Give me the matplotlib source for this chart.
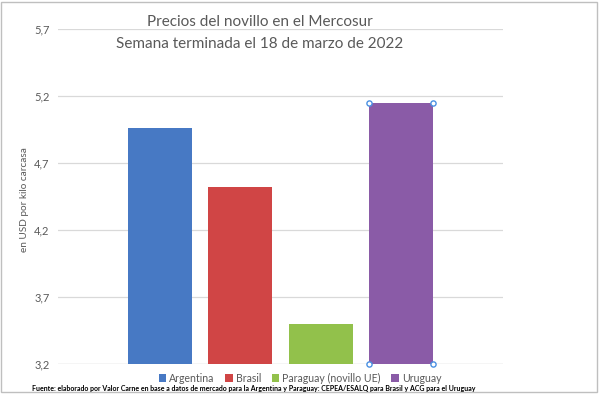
import numpy as np
import matplotlib.pyplot as plt
from matplotlib.patches import Rectangle

# datos
paises = ['Argentina', 'Brasil', 'Paraguay (novillo UE)', 'Uruguay']
precios = [4.96, 4.52, 3.50, 5.15]
colores = ['#4779c4', '#d04545', '#92c14b', '#8a5ba7']
ticks_y = [3.2, 3.7, 4.2, 4.7, 5.2, 5.7]
etiquetas_y = ['3,2', '3,7', '4,2', '4,7', '5,2', '5,7']

plt.rcParams['font.family'] = ['Lato', 'DejaVu Sans']
gris = '#595959'

fig = plt.figure(figsize=(6, 3.96), dpi=100)
ax = fig.add_axes([58 / 600, 1 - 364 / 396, 445 / 600, 335 / 396])

x = np.arange(len(paises))
barras = ax.bar(x, [p - ticks_y[0] for p in precios], bottom=ticks_y[0],
                width=0.8, color=colores, label=paises, zorder=3)

# marcas de selección sobre la barra de Uruguay
b = barras[3]
ax.scatter([b.get_x(), b.get_x() + b.get_width(), b.get_x(), b.get_x() + b.get_width()],
           [b.get_y() + b.get_height(), b.get_y() + b.get_height(), b.get_y(), b.get_y()],
           s=14, facecolor='white', edgecolor='#4a90e2', linewidth=1, zorder=5, clip_on=False)

ax.set_xlim(-1.28, 4.28)
ax.set_ylim(3.2, 5.7)
ax.set_yticks(ticks_y)
ax.set_yticklabels(etiquetas_y, color=gris, fontsize=8)
ax.set_xticks([])
ax.tick_params(axis='y', length=0, pad=6)
ax.grid(axis='y', color='#d9d9d9', linewidth=0.9, zorder=0)
for s in ax.spines.values():
    s.set_visible(False)
ax.axhline(3.2, color='#d9d9d9', linewidth=0.9, zorder=1)

ax.set_ylabel('en USD por kilo carcasa', color=gris, fontsize=7.2)
ax.yaxis.set_label_coords(-0.066, 0.49)

fig.text(260 / 600, 1 - 33 / 396, 'Precios del novillo en el Mercosur\nSemana terminada el 18 de marzo de 2022',
         ha='center', va='center', fontsize=11, color=gris, linespacing=1.75)

ax.legend(handles=barras, labels=paises, loc='center', bbox_to_anchor=(300 / 600, 1 - 378 / 396),
          bbox_transform=fig.transFigure, ncol=4, frameon=False, fontsize=7.6,
          labelcolor=gris, handlelength=0.7, handleheight=0.7, handletextpad=0.3,
          columnspacing=1.0, borderpad=0)

fig.text(254 / 600, 1 - 388 / 396,
         'Fuente: elaborado por Valor Carne en base a datos de mercado para la Argentina y Paraguay: CEPEA/ESALQ para Brasil y ACG para el Uruguay',
         ha='center', va='center', fontsize=5.0, fontweight='bold', color='black')

fig.patches.append(Rectangle((0.002, 1 - 392 / 396), 0.993, 390 / 396, transform=fig.transFigure,
                             fill=False, edgecolor='#bfbfbf', linewidth=1))

fig.savefig('out.png', dpi=100)
